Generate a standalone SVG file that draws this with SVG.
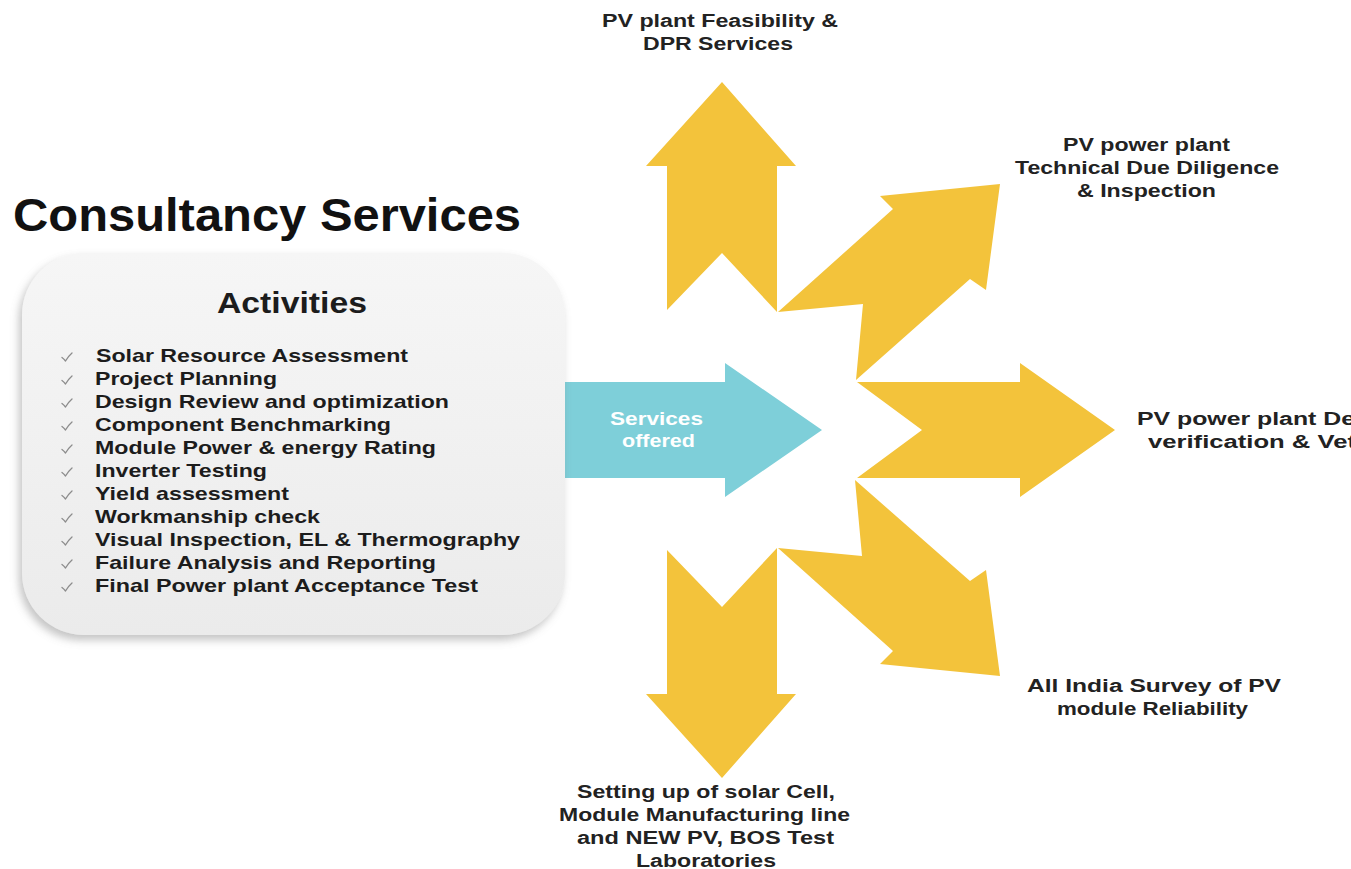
<svg xmlns="http://www.w3.org/2000/svg" width="1351" height="869" viewBox="0 0 1351 869">
  <defs>
    <linearGradient id="boxFill" x1="0" y1="0" x2="0" y2="1">
      <stop offset="0" stop-color="#f6f6f6"/>
      <stop offset="1" stop-color="#ebebeb"/>
    </linearGradient>
    <filter id="boxShadow" x="-10%" y="-10%" width="120%" height="125%">
      <feDropShadow dx="-3" dy="5" stdDeviation="4" flood-color="#7a7a7a" flood-opacity="0.45"/>
    </filter>
    <path id="tick" d="M-5,-0.5 Q-3,1 -1.5,3 Q1,-1.5 5,-5" fill="none" stroke="#8c8c8c" stroke-width="1.3" stroke-linecap="round" stroke-linejoin="round"/>
  </defs>
  <style>
    text { font-family: "Liberation Sans", Arial, sans-serif; font-weight: bold; fill: #1c1c1c; }
    .title { font-size: 46px; fill: #111; }
    .head { font-size: 30px; }
    .item { font-size: 19px; }
    .label { font-size: 18px; fill: #222; }
    .svc { font-size: 18px; fill: #ffffff; }
    .yellow { fill: #f3c33b; }
    .teal { fill: #7ecfd9; }
  </style>

  <rect width="1351" height="869" fill="#ffffff"/>

  <!-- heading -->
  <g id="title">
    <text class="title" x="13" y="231" textLength="508" lengthAdjust="spacingAndGlyphs">Consultancy Services</text>
  </g>

  <!-- teal "Services offered" arrow, tucked behind the activities panel -->
  <g id="services-offered">
    <path class="teal" d="M520,382 L725,382 L725,363 L822,430 L725,497 L725,478 L520,478 Z"/>
    <text class="svc" x="610" y="425" textLength="93" lengthAdjust="spacingAndGlyphs">Services</text>
    <text class="svc" x="622" y="447" textLength="73" lengthAdjust="spacingAndGlyphs">offered</text>
  </g>

  <!-- activities panel -->
  <g id="activities">
    <rect x="22" y="253" width="543" height="382" rx="62" ry="62" fill="url(#boxFill)" filter="url(#boxShadow)"/>
    <text class="head" x="217" y="313" textLength="150" lengthAdjust="spacingAndGlyphs">Activities</text>
    <g id="activity-ticks">
      <use href="#tick" x="67" y="358"/>
      <use href="#tick" x="67" y="381"/>
      <use href="#tick" x="67" y="404"/>
      <use href="#tick" x="67" y="427"/>
      <use href="#tick" x="67" y="450"/>
      <use href="#tick" x="67" y="473"/>
      <use href="#tick" x="67" y="496"/>
      <use href="#tick" x="67" y="519"/>
      <use href="#tick" x="67" y="542"/>
      <use href="#tick" x="67" y="565"/>
      <use href="#tick" x="67" y="588"/>
    </g>
    <text class="item" x="96" y="362" textLength="312" lengthAdjust="spacingAndGlyphs">Solar Resource Assessment</text>
    <text class="item" x="95" y="385" textLength="182" lengthAdjust="spacingAndGlyphs">Project Planning</text>
    <text class="item" x="95" y="408" textLength="354" lengthAdjust="spacingAndGlyphs">Design Review and optimization</text>
    <text class="item" x="95" y="431" textLength="296" lengthAdjust="spacingAndGlyphs">Component Benchmarking</text>
    <text class="item" x="95" y="454" textLength="341" lengthAdjust="spacingAndGlyphs">Module Power &amp; energy Rating</text>
    <text class="item" x="95" y="477" textLength="172" lengthAdjust="spacingAndGlyphs">Inverter Testing</text>
    <text class="item" x="95" y="500" textLength="194" lengthAdjust="spacingAndGlyphs">Yield assessment</text>
    <text class="item" x="95" y="523" textLength="225" lengthAdjust="spacingAndGlyphs">Workmanship check</text>
    <text class="item" x="95" y="546" textLength="425" lengthAdjust="spacingAndGlyphs">Visual Inspection, EL &amp; Thermography</text>
    <text class="item" x="95" y="569" textLength="341" lengthAdjust="spacingAndGlyphs">Failure Analysis and Reporting</text>
    <text class="item" x="95" y="592" textLength="383" lengthAdjust="spacingAndGlyphs">Final Power plant Acceptance Test</text>
  </g>

  <!-- yellow notched arrows fanning out to the services -->
  <g id="connectors">
    <path id="arrow-up" class="yellow" d="M667,310 L667,166 L646,166 L722,82 L796,166 L777,166 L777,312 L722,253 Z"/>
    <path id="arrow-ne" class="yellow" d="M778,312 L863,304 L856,380 L970,279 L986,290 L1000,184 L880,196 L893,209 Z"/>
    <path id="arrow-right" class="yellow" d="M857,382 L1020,382 L1020,363 L1115,430 L1020,497 L1020,478 L857,478 L922,430 Z"/>
    <path id="arrow-se" class="yellow" d="M778,548 L862,556 L855,480 L970,581 L986,570 L1000,676 L880,664 L893,651 Z"/>
    <path id="arrow-down" class="yellow" d="M667,550 L667,694 L646,694 L722,778 L796,694 L777,694 L777,548 L722,607 Z"/>
  </g>

  <!-- service labels -->
  <g id="feasibility">
    <text class="label" x="602" y="27" textLength="236" lengthAdjust="spacingAndGlyphs">PV plant Feasibility &amp;</text>
    <text class="label" x="643" y="50" textLength="150" lengthAdjust="spacingAndGlyphs">DPR Services</text>
  </g>
  <g id="due-diligence">
    <text class="label" x="1063" y="151" textLength="167" lengthAdjust="spacingAndGlyphs">PV power plant</text>
    <text class="label" x="1015" y="174" textLength="264" lengthAdjust="spacingAndGlyphs">Technical Due Diligence</text>
    <text class="label" x="1077" y="197" textLength="139" lengthAdjust="spacingAndGlyphs">&amp; Inspection</text>
  </g>
  <g id="design-verification">
    <text class="label" x="1137" y="425" textLength="218" lengthAdjust="spacingAndGlyphs">PV power plant De</text>
    <text class="label" x="1148" y="448" textLength="208" lengthAdjust="spacingAndGlyphs">verification &amp; Vet</text>
  </g>
  <g id="reliability-survey">
    <text class="label" x="1027" y="692" textLength="254" lengthAdjust="spacingAndGlyphs">All India Survey of PV</text>
    <text class="label" x="1057" y="715" textLength="191" lengthAdjust="spacingAndGlyphs">module Reliability</text>
  </g>
  <g id="manufacturing-setup">
    <text class="label" x="577" y="798" textLength="258" lengthAdjust="spacingAndGlyphs">Setting up of solar Cell,</text>
    <text class="label" x="559" y="821" textLength="291" lengthAdjust="spacingAndGlyphs">Module Manufacturing line</text>
    <text class="label" x="577" y="844" textLength="257" lengthAdjust="spacingAndGlyphs">and NEW PV, BOS Test</text>
    <text class="label" x="636" y="867" textLength="140" lengthAdjust="spacingAndGlyphs">Laboratories</text>
  </g>
</svg>
